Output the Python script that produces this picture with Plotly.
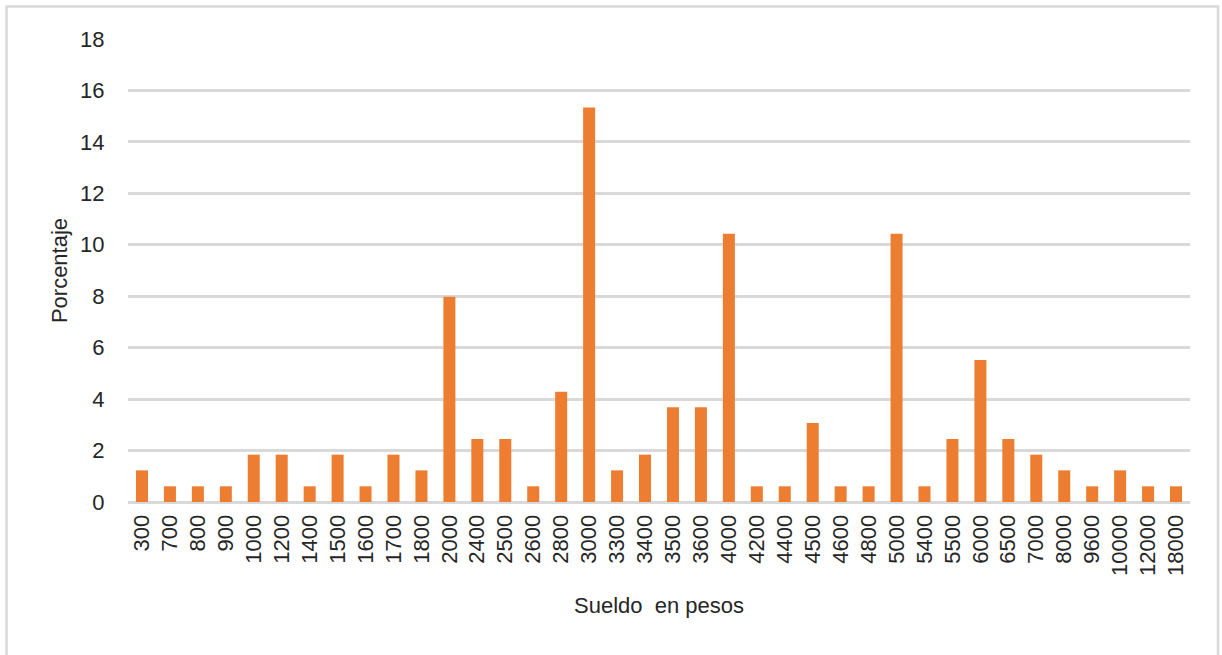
import plotly.graph_objects as go

categories = ["300", "700", "800", "900", "1000", "1200", "1400", "1500", "1600", "1700",
              "1800", "2000", "2400", "2500", "2600", "2800", "3000", "3300", "3400", "3500",
              "3600", "4000", "4200", "4400", "4500", "4600", "4800", "5000", "5400", "5500",
              "6000", "6500", "7000", "8000", "9600", "10000", "12000", "18000"]
percentages = [1.23, 0.61, 0.61, 0.61, 1.84, 1.84, 0.61, 1.84, 0.61, 1.84,
               1.23, 7.98, 2.45, 2.45, 0.61, 4.29, 15.34, 1.23, 1.84, 3.68,
               3.68, 10.43, 0.61, 0.61, 3.07, 0.61, 0.61, 10.43, 0.61, 2.45,
               5.52, 2.45, 1.84, 1.23, 0.61, 1.23, 0.61, 0.61]
y_ticks = [0, 2, 4, 6, 8, 10, 12, 14, 16, 18]

W, H = 1222, 655
L, R, T, B = 128, 32, 39, 153
plot_h = H - T - B
plot_w = W - L - R

FONT = "Liberation Sans, Arial, sans-serif"
TXT = "#262626"
GRID = "#d9d9d9"
FS = 22

fig = go.Figure(go.Bar(
    x=categories, y=percentages,
    marker=dict(color="#ED7D31", line=dict(width=0)),
))

fig.update_layout(
    width=W, height=H,
    margin=dict(l=L, r=R, t=T, b=B),
    plot_bgcolor="white", paper_bgcolor="white",
    bargap=0.57,
    showlegend=False,
    font=dict(family=FONT, size=FS, color=TXT),
)
fig.update_xaxes(
    type="category", tickangle=-90, showgrid=False, zeroline=False,
    ticks="outside", ticklen=3, tickcolor="rgba(0,0,0,0)",
    tickfont=dict(size=FS, color=TXT),
    title=dict(text="Sueldo  en pesos", font=dict(size=FS, color=TXT), standoff=22),
    showline=False,
)
fig.update_yaxes(
    range=[0, 18], tickvals=y_ticks, showgrid=True, gridcolor=GRID, gridwidth=2.5,
    zeroline=True, zerolinecolor=GRID, zerolinewidth=2.5,
    ticks="outside", ticklen=18, tickcolor="rgba(0,0,0,0)",
    tickfont=dict(size=FS, color=TXT),
    title=dict(text="Porcentaje", font=dict(size=FS, color=TXT), standoff=6),
    showline=False,
)

# outer border of chart area
def px_x(p):
    return (p - L) / plot_w

def px_y(p):
    return (H - B - p) / plot_h

fig.add_shape(type="rect", xref="paper", yref="paper",
              x0=px_x(6.5), x1=px_x(1218), y0=px_y(670), y1=px_y(6.5),
              line=dict(color=GRID, width=2.5), fillcolor="rgba(0,0,0,0)", layer="below")

fig.write_html("out.html", config={"displayModeBar": False},
               post_script="document.body.style.margin='0px';")
